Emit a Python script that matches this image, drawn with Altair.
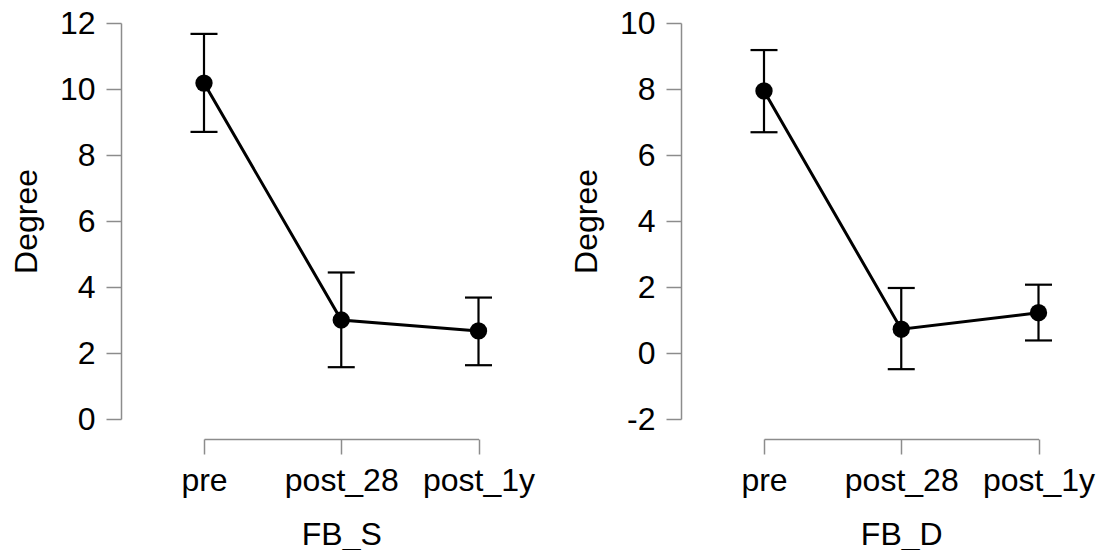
import altair as alt
import pandas as pd

categories = ["pre", "post_28", "post_1y"]

fbs_mean = [10.18, 3.00, 2.67]
fbs_lo = [8.70, 1.57, 1.63]
fbs_hi = [11.67, 4.44, 3.68]

fbd_mean = [7.94, 0.72, 1.22]
fbd_lo = [6.69, -0.49, 0.38]
fbd_hi = [9.18, 1.97, 2.07]

left_ticks = [0, 2, 4, 6, 8, 10, 12]
right_ticks = [-2, 0, 2, 4, 6, 8, 10]

FONT = "Liberation Sans"
AXIS_GRAY = "#8c8c8c"


def panel(mean, lo, hi, xtitle, ydomain, yticks):
    df = pd.DataFrame({"time": categories, "mean": mean, "lo": lo, "hi": hi})
    xenc = alt.X(
        "time:N",
        sort=categories,
        scale=alt.Scale(type="point", padding=0),
        axis=alt.Axis(
            title=xtitle,
            labelAngle=0,
            offset=20,
            tickSize=15,
            labelPadding=11,
            titlePadding=23,
            domainColor=AXIS_GRAY,
            tickColor=AXIS_GRAY,
            domainWidth=1.5,
            tickWidth=1.5,
        ),
    )
    yscale = alt.Scale(domain=ydomain, nice=False, zero=False)
    yaxis = alt.Axis(
        values=yticks,
        labelExpr="'' + datum.value",
        offset=83,
        tickSize=15,
        labelPadding=11,
        titlePadding=16,
        domainColor=AXIS_GRAY,
        tickColor=AXIS_GRAY,
        domainWidth=1.5,
        tickWidth=1.5,
    )

    def Y(field):
        return alt.Y(field, type="quantitative", scale=yscale, axis=yaxis, title="Degree")

    base = alt.Chart(df).encode(x=xenc)
    bars = base.mark_rule(color="black", strokeWidth=2.2).encode(y=Y("lo"), y2="hi")
    cap_lo = base.mark_tick(color="black", size=27, thickness=2.2, orient="horizontal", opacity=1).encode(y=Y("lo"))
    cap_hi = base.mark_tick(color="black", size=27, thickness=2.2, orient="horizontal", opacity=1).encode(y=Y("hi"))
    line = base.mark_line(color="black", strokeWidth=3).encode(y=Y("mean"))
    pts = base.mark_circle(color="black", size=300, opacity=1).encode(y=Y("mean"))
    return alt.layer(bars, cap_lo, cap_hi, line, pts).properties(width=274.5, height=396)


left = panel(fbs_mean, fbs_lo, fbs_hi, "FB_S", [0, 12], left_ticks)
right = panel(fbd_mean, fbd_lo, fbd_hi, "FB_D", [-2, 10], right_ticks)

chart = (
    alt.hconcat(left, right, spacing=35)
    .properties(padding={"left": 10, "top": 7, "right": 3, "bottom": 0}, background="white")
    .configure_view(stroke=None)
    .configure_axis(
        grid=False,
        labelFont=FONT,
        titleFont=FONT,
        labelFontSize=32,
        titleFontSize=32,
        labelColor="black",
        titleColor="black",
        titleFontWeight="normal",
    )
)

chart.save("out.html", embed_options={"renderer": "svg", "actions": False})
